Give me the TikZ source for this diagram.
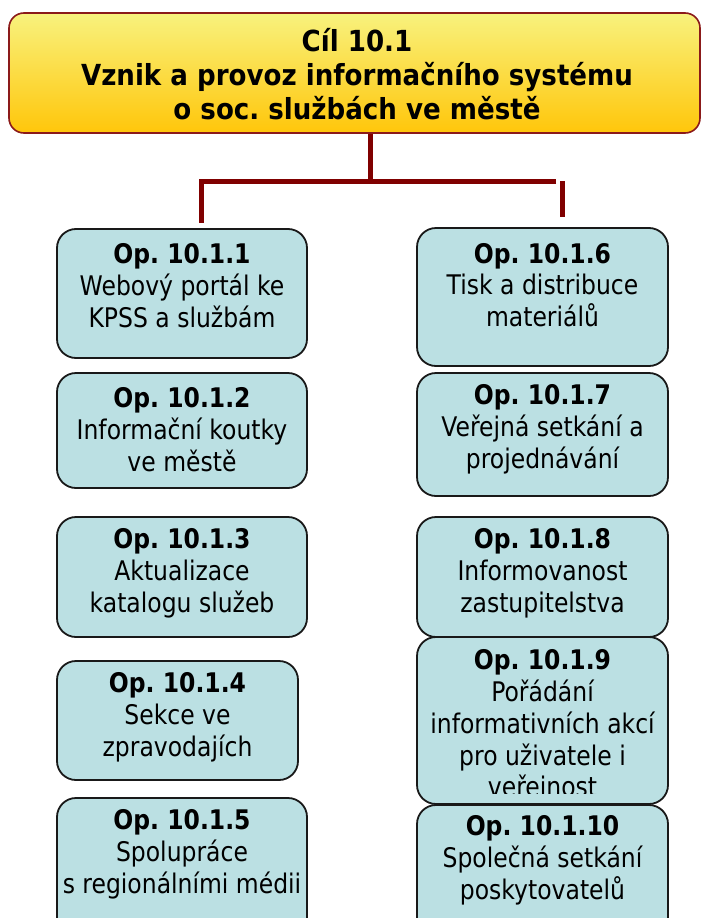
\documentclass[tikz,border=0pt]{standalone}
\usepackage{fontspec}
\setmainfont{DejaVu Sans}[FakeStretch=0.87]
\newfontfamily\titlefont{DejaVu Sans}[FakeStretch=0.9]
\frenchspacing
\definecolor{boxfill}{HTML}{BBE0E3}
\definecolor{conncol}{HTML}{800000}
\definecolor{titletop}{HTML}{F8F27E}
\definecolor{titlebot}{HTML}{FFC60A}
\definecolor{titleedge}{HTML}{8B1A1A}
\tikzset{
  opbox/.style={draw=black!90, line width=1.8pt, fill=boxfill, rounded corners=19pt, inner sep=0pt},
  optext/.style={align=center, inner sep=0pt, font=\fontsize{27}{31.8}\selectfont},
  conn/.style={draw=conncol, line width=5pt},
  titlebox/.style={draw=titleedge, line width=1.6pt, top color=titletop, bottom color=titlebot, rounded corners=15pt, inner sep=0pt},
  titletext/.style={align=center, inner sep=0pt, font=\titlefont\bfseries\fontsize{29}{34}\selectfont}
}
\newcommand\opbox[5]{\node[opbox, minimum width={(#4-#2)*1pt}, minimum height={(#5-#3)*1pt}] (#1) at ({(#2+#4)/2},{(#3+#5)/2}) {};}
\begin{document}
\begin{tikzpicture}[x=1pt,y=-1pt]
\clip (0,0) rectangle (701,918);
\fill[white] (0,0) rectangle (701,918);
% title
\node[titlebox, minimum width=691pt, minimum height=120pt] (title) at (354.5,73) {};
\node[titletext] (ttext) at (357,74) {Cíl 10.1\\Vznik a provoz informačního systému\\o soc. službách ve městě};
% connectors
\coordinate (jc) at (370,181);
\coordinate (jl) at (201,181);
\coordinate (jr) at (556,181);
\coordinate (el) at (201,223);
\coordinate (rt) at (562,181);
\coordinate (rb) at (562,217);
\draw[conn] (title.south -| jc) -- (jc);
\draw[conn] (jr) -- (jl) -- (el);
\draw[conn] (rt) -- (rb);
% left column
\opbox{b1}{57}{229}{307}{358}
\opbox{b2}{57}{373}{307}{488}
\opbox{b3}{57}{517}{307}{637}
\opbox{b4}{57}{661}{298}{780}
\opbox{b5}{57}{798}{307}{960}
% right column
\opbox{b6}{417}{228}{668}{366}
\opbox{b7}{417}{373}{668}{496}
\opbox{b8}{417}{517}{668}{637}
\opbox{b9}{417}{637}{668}{804}
\opbox{b10}{417}{805}{668}{960}
% texts
\node[optext] (t1) at (182,285.5) {\textbf{Op. 10.1.1}\\Webový portál ke\\KPSS a službám};
\node[optext] (t2) at (182,429.5) {\textbf{Op. 10.1.2}\\Informační koutky\\ve městě};
\node[optext] (t3) at (182,573) {\textbf{Op. 10.1.3}\\Aktualizace\\katalogu služeb};
\node[optext] (t4) at (177.5,717) {\textbf{Op. 10.1.4}\\Sekce ve\\zpravodajích};
\node[optext] (t5) at (182,854) {\textbf{Op. 10.1.5}\\Spolupráce\\s regionálními médii};
\node[optext] (t6) at (542.5,285) {\textbf{Op. 10.1.6}\\Tisk a distribuce\\materiálů};
\node[optext] (t7) at (542.5,429.5) {\textbf{Op. 10.1.7}\\Veřejná setkání a\\projednávání};
\node[optext] (t8) at (542.5,573) {\textbf{Op. 10.1.8}\\Informovanost\\zastupitelstva};
\begin{scope}
\clip (417,637) rectangle (668,793);
\node[optext] (t9) at (542.5,726) {\textbf{Op. 10.1.9}\\Pořádání\\informativních akcí\\pro uživatele i\\veřejnost};
\end{scope}
\node[optext] (t10) at (542.5,860) {\textbf{Op. 10.1.10}\\Společná setkání\\poskytovatelů};
\end{tikzpicture}
\end{document}
